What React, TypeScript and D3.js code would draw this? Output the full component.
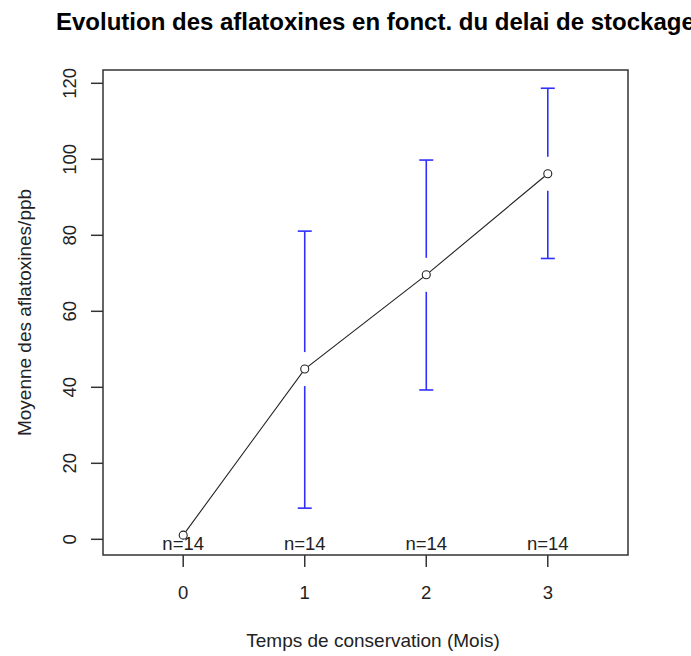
import React from "react";
import * as d3 from "d3";

// Mean aflatoxin level per storage month, with confidence bounds
const months = [0, 1, 2, 3];
const means = [1.1, 44.8, 69.6, 96.2];
const lower = [0.6, 8.2, 39.3, 73.9];
const upper = [1.6, 81.1, 99.8, 118.7];
const counts = [14, 14, 14, 14];
const yTicks = [0, 20, 40, 60, 80, 100, 120];

const W = 691;
const H = 656;
const left = 103;
const right = 628;
const top = 70;
const bottom = 555;

const font = "'Liberation Sans', Arial, sans-serif";

export default function App() {
  const x = d3.scaleLinear().domain([-0.66, 3.66]).range([left, right]);
  const y = d3.scaleLinear().domain([-4.13, 123.5]).range([bottom, top]);
  const line = d3
    .line<number>()
    .x((_, i) => x(months[i]))
    .y((d) => y(d));
  const gap = 17;
  const cap = 7;
  const blue = "#2f2fff";

  return (
    <svg
      width={W}
      height={H}
      style={{ position: "absolute", left: 0, top: 0, background: "#fff" }}
      fontFamily={font}
    >
      <rect width={W} height={H} fill="#fff" />
      <text x={56} y={30} fontSize={24} fontWeight="bold" fill="#000">
        Evolution des aflatoxines en fonct. du delai de stockages
      </text>

      {/* error bars */}
      {months.map((m, i) => {
        const cx = x(m);
        const cy = y(means[i]);
        const yt = y(upper[i]);
        const yb = y(lower[i]);
        return (
          <g key={"e" + i} stroke={blue} strokeWidth={1.6}>
            {yt < cy - gap && (
              <>
                <line x1={cx} x2={cx} y1={yt} y2={cy - gap} />
                <line x1={cx - cap} x2={cx + cap} y1={yt} y2={yt} />
              </>
            )}
            {yb > cy + gap && (
              <>
                <line x1={cx} x2={cx} y1={cy + gap} y2={yb} />
                <line x1={cx - cap} x2={cx + cap} y1={yb} y2={yb} />
              </>
            )}
          </g>
        );
      })}

      <path d={line(means) || ""} fill="none" stroke="#222" strokeWidth={1.1} />
      {months.map((m, i) => (
        <circle
          key={"p" + i}
          cx={x(m)}
          cy={y(means[i])}
          r={4}
          fill="#fff"
          stroke="#222"
          strokeWidth={1.1}
        />
      ))}

      {months.map((m, i) => (
        <text
          key={"n" + i}
          x={x(m)}
          y={550}
          fontSize={18.5}
          textAnchor="middle"
          fill="#222"
        >
          {"n=" + counts[i]}
        </text>
      ))}

      <rect
        x={left}
        y={top}
        width={right - left}
        height={bottom - top}
        fill="none"
        stroke="#333"
        strokeWidth={1.5}
      />

      {/* x axis */}
      {months.map((m) => (
        <g key={"x" + m}>
          <line x1={x(m)} x2={x(m)} y1={bottom} y2={567} stroke="#333" strokeWidth={1.5} />
          <text x={x(m)} y={599} fontSize={18.5} textAnchor="middle" fill="#222">
            {m}
          </text>
        </g>
      ))}
      <text x={373} y={647} fontSize={19} textAnchor="middle" fill="#222">
        Temps de conservation (Mois)
      </text>

      {/* y axis */}
      {yTicks.map((t) => (
        <g key={"y" + t}>
          <line x1={91} x2={left} y1={y(t)} y2={y(t)} stroke="#333" strokeWidth={1.5} />
          <text
            transform={`translate(76,${y(t)}) rotate(-90)`}
            fontSize={18.5}
            textAnchor="middle"
            fill="#222"
          >
            {t}
          </text>
        </g>
      ))}
      <text
        transform={`translate(30.5,312.5) rotate(-90)`}
        fontSize={19}
        textAnchor="middle"
        fill="#222"
      >
        Moyenne des aflatoxines/ppb
      </text>
    </svg>
  );
}
